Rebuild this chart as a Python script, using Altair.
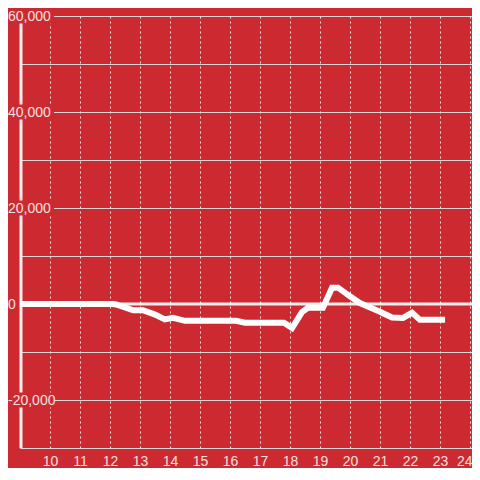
import altair as alt
import pandas as pd

hours = [9.0, 12.1, 12.2, 12.5, 12.77, 13.1, 13.5, 13.83, 14.1, 14.5, 16.2, 16.5, 17.8, 18.07, 18.4, 18.6, 19.1, 19.4, 19.6, 20.0, 20.33, 21.0, 21.4, 21.77, 22.07, 22.33, 23.17]
values = [0, 0, -100, -700, -1300, -1300, -2200, -3200, -2900, -3500, -3500, -3900, -3900, -5000, -1700, -800, -800, 3400, 3400, 1600, 200, -1600, -2800, -2900, -1800, -3300, -3300]

x_ticks = list(range(10, 25))
y_ticks = [-30000, -20000, -10000, 0, 10000, 20000, 30000, 40000, 50000, 60000]
y_labels = [-20000, 0, 20000, 40000, 60000]

BG = "#cc2a30"
LABEL = "#f2e0e0"

df = pd.DataFrame({"hour": hours, "value": values})
lab = pd.DataFrame({"v": y_labels, "t": [f"{v:,}" for v in y_labels]})
lab_cover = lab[lab["v"] != 0]

xs = alt.Scale(domain=[9, 24.067], nice=False, zero=False)
ys = alt.Scale(domain=[-30000, 60000], nice=False, zero=False)

x_axis = alt.Axis(values=x_ticks, grid=True, gridColor="#f0e8e8", gridDash=[2, 3], gridWidth=1,
                  ticks=False, domainColor="#d8d8d8", domainWidth=1,
                  labelColor=LABEL, labelFontSize=14, labelFont="Liberation Sans",
                  labelPadding=6, labelFlush=False, labelOverlap=False, format="d",
                  labelAlign={"condition": {"test": "datum.value >= 24", "value": "right"}, "value": "center"},
                  labelOffset={"condition": {"test": "datum.value >= 24", "value": 2}, "value": 0})
y_axis = alt.Axis(values=y_ticks, grid=True, gridColor="#d8d8d8", gridWidth=1,
                  labels=False, ticks=False, domain=False)

base = alt.Chart(df)

grid = base.mark_line(opacity=0).encode(
    x=alt.X("hour:Q", scale=xs, title=None, axis=x_axis),
    y=alt.Y("value:Q", scale=ys, title=None, axis=y_axis),
)

domain_y = alt.Chart(pd.DataFrame({"a": [0]})).mark_rule(color="#f2eeee", strokeWidth=3).encode(
    x=alt.value(1), y=alt.value(0), y2=alt.value(432)
)

cover = alt.Chart(lab_cover).mark_rule(color=BG, strokeWidth=15).encode(
    y=alt.Y("v:Q", scale=ys, title=None, axis=y_axis), x=alt.value(-20), x2=alt.value(34)
)

texts = alt.Chart(lab).mark_text(align="left", baseline="middle", fontSize=14, font="Liberation Sans",
                                  color=LABEL, dy=1).encode(
    y=alt.Y("v:Q", scale=ys, title=None, axis=y_axis), x=alt.value(-12), text="t:N"
)

zero = alt.Chart(pd.DataFrame({"z": [0]})).mark_rule(color="#f2eeee", strokeWidth=3).encode(
    y=alt.Y("z:Q", scale=ys, title=None, axis=y_axis), x=alt.value(0), x2=alt.value(452)
)

line = base.mark_line(color="white", strokeWidth=6, strokeCap="butt", strokeJoin="miter").encode(
    x=alt.X("hour:Q", scale=xs, title=None, axis=x_axis),
    y=alt.Y("value:Q", scale=ys, title=None, axis=y_axis)
)

chart = alt.layer(grid, domain_y, cover, texts, zero, line).properties(
    width=452, height=432, background=BG,
    padding={"left": 12, "top": 8, "right": 0, "bottom": 20},
    autosize=alt.AutoSizeParams(type="none"),
).configure_view(stroke=None)

chart.save("out.html", embed_options={"renderer": "svg", "actions": False})
